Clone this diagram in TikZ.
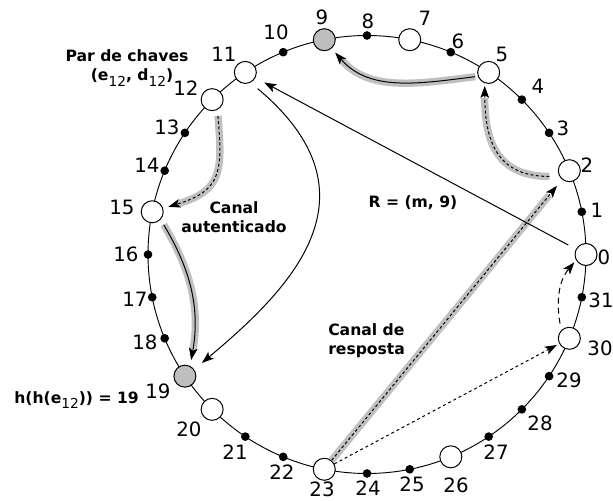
\documentclass[tikz,border=0pt]{standalone}
\usepackage{fontspec}
\setmainfont{DejaVu Sans}
\usetikzlibrary{arrows.meta}
\definecolor{bandgray}{RGB}{192,192,192}
\definecolor{nodegray}{RGB}{190,190,190}
\newcommand\subtxt[1]{\raisebox{-4.2pt}{\fontsize{10.3}{10.3}\selectfont\mdseries #1}}
\begin{document}
\begin{tikzpicture}[x=0.75pt,y=0.75pt,
  ringnode/.style={circle,draw=black,line width=0.75pt,fill=white,minimum size=16.5pt,inner sep=0pt},
  keynode/.style={ringnode,fill=nodegray},
  dotnode/.style={circle,fill=black,minimum size=6.5pt,inner sep=0pt},
  num/.style={font=\fontsize{14.8}{17}\selectfont,inner sep=0pt},
  boldtxt/.style={font=\fontsize{11.7}{14.5}\selectfont\bfseries,inner sep=0pt},
  band/.style={draw=bandgray,line width=5.5pt},
  tip/.style={-{Stealth[length=9pt,width=6.5pt,inset=2pt]}},
  thinline/.style={line width=0.75pt},
]
\useasboundingbox (0,0) rectangle (613,500);
\coordinate (C) at (367,245.5);
\draw[line width=0.7pt] (C) circle[radius=219];
\begin{scope}[shift={(C)}]
\foreach \k in {1,3,4,6,8,10,13,14,16,17,18,21,22,24,25,27,28,29,31}
  \node[dotnode] (n\k) at (\k*11.25:219) {};
\foreach \k in {0,2,5,7,11,12,15,20,23,26,30}
  \node[ringnode] (n\k) at (\k*11.25:219) {};
\foreach \k in {9,19}
  \node[keynode] (n\k) at (\k*11.25:219) {};
\end{scope}
\foreach \k/\x/\y in {0/604/243,1/597/290,2/587/335,3/563/372,4/538/414,5/502/446,6/458/459,7/425/482,8/368/479,9/322/483,10/276/468,11/224/446,12/186/412,13/167/373,14/147/335,15/122/293,16/126/246,17/135/201,18/145/158,19/158/109,20/189/71,21/235/48,22/282/28,23/322/10.5,24/368/12,25/412/16,26/456/15,27/496/48,28/540/77,29/569/120,30/600/152,31/601/200}
  \node[num] (l\k) at (\x,\y) {\k};
% 23 -> 2 response channel
\draw[band,shorten >=15pt] (n23) -- (n2);
\draw[thinline,tip,dash pattern=on 2.2pt off 1.8pt,shorten >=6pt] (n23) -- (n2);
% 2 -> 5
\draw[band,shorten <=7.5pt,shorten >=11pt] (n2.210) to[out=180,in=-90,looseness=1.3] (n5.250);
\draw[thinline,tip,dash pattern=on 2.2pt off 1.8pt,shorten <=7.5pt,shorten >=2pt] (n2.210) to[out=180,in=-90,looseness=1.3] (n5.250);
% 5 -> 9
\draw[band,shorten <=2pt,shorten >=12pt] (n5.200) to[out=187,in=-49] (n9.-50);
\draw[thinline,tip,shorten <=2pt,shorten >=4pt] (n5.200) to[out=187,in=-49] (n9.-50);
% 12 -> 15
\draw[band,shorten <=4.5pt,shorten >=12pt] (n12.-63) to[out=-85,in=17,looseness=1.4] (n15.17);
\draw[thinline,tip,dash pattern=on 2.2pt off 1.8pt,shorten <=4.5pt,shorten >=4pt] (n12.-63) to[out=-85,in=17,looseness=1.4] (n15.17);
% 15 -> 19
\draw[band,shorten <=4.5pt,shorten >=12.5pt] (n15.-43) to[out=-59,in=80] (n19.63);
\draw[thinline,tip,shorten <=4.5pt,shorten >=4.5pt] (n15.-43) to[out=-59,in=80] (n19.63);
% 11 -> 19
\draw[thinline,tip,shorten <=7pt,shorten >=7.5pt] (n11.-63) .. controls +(-40:175) and +(40:125) .. (n19.36);
% 0 -> 11
\draw[thinline,tip,shorten <=6.4pt,shorten >=7.5pt] (n0) -- (n11);
% 23 -> 30
\draw[thinline,tip,dash pattern=on 2.2pt off 2.2pt,shorten >=2pt] (n23) -- (n30);
% 30 -> 0
\draw[thinline,tip,dash pattern=on 4.5pt off 3pt,shorten <=5pt,shorten >=2pt] (n30.135) to[out=100,in=-130] (n0.210);
% texts
\node[boldtxt,align=center] (keys) at (127,432) {Par de chaves\\\hspace*{7.5pt}(e\subtxt{12}, d\subtxt{12})};
\node[boldtxt,align=center] (auth) at (234,282.5) {Canal\\autenticado};
\node[boldtxt,anchor=base] (req) at (413,292) {R = (m, 9)};
\node[boldtxt,align=left,anchor=west] (resp) at (328,159.5) {Canal de\\resposta};
\node[boldtxt,anchor=base east] (hash) at (139,97) {h(h(e\subtxt{12})) = 19};
\end{tikzpicture}
\end{document}
